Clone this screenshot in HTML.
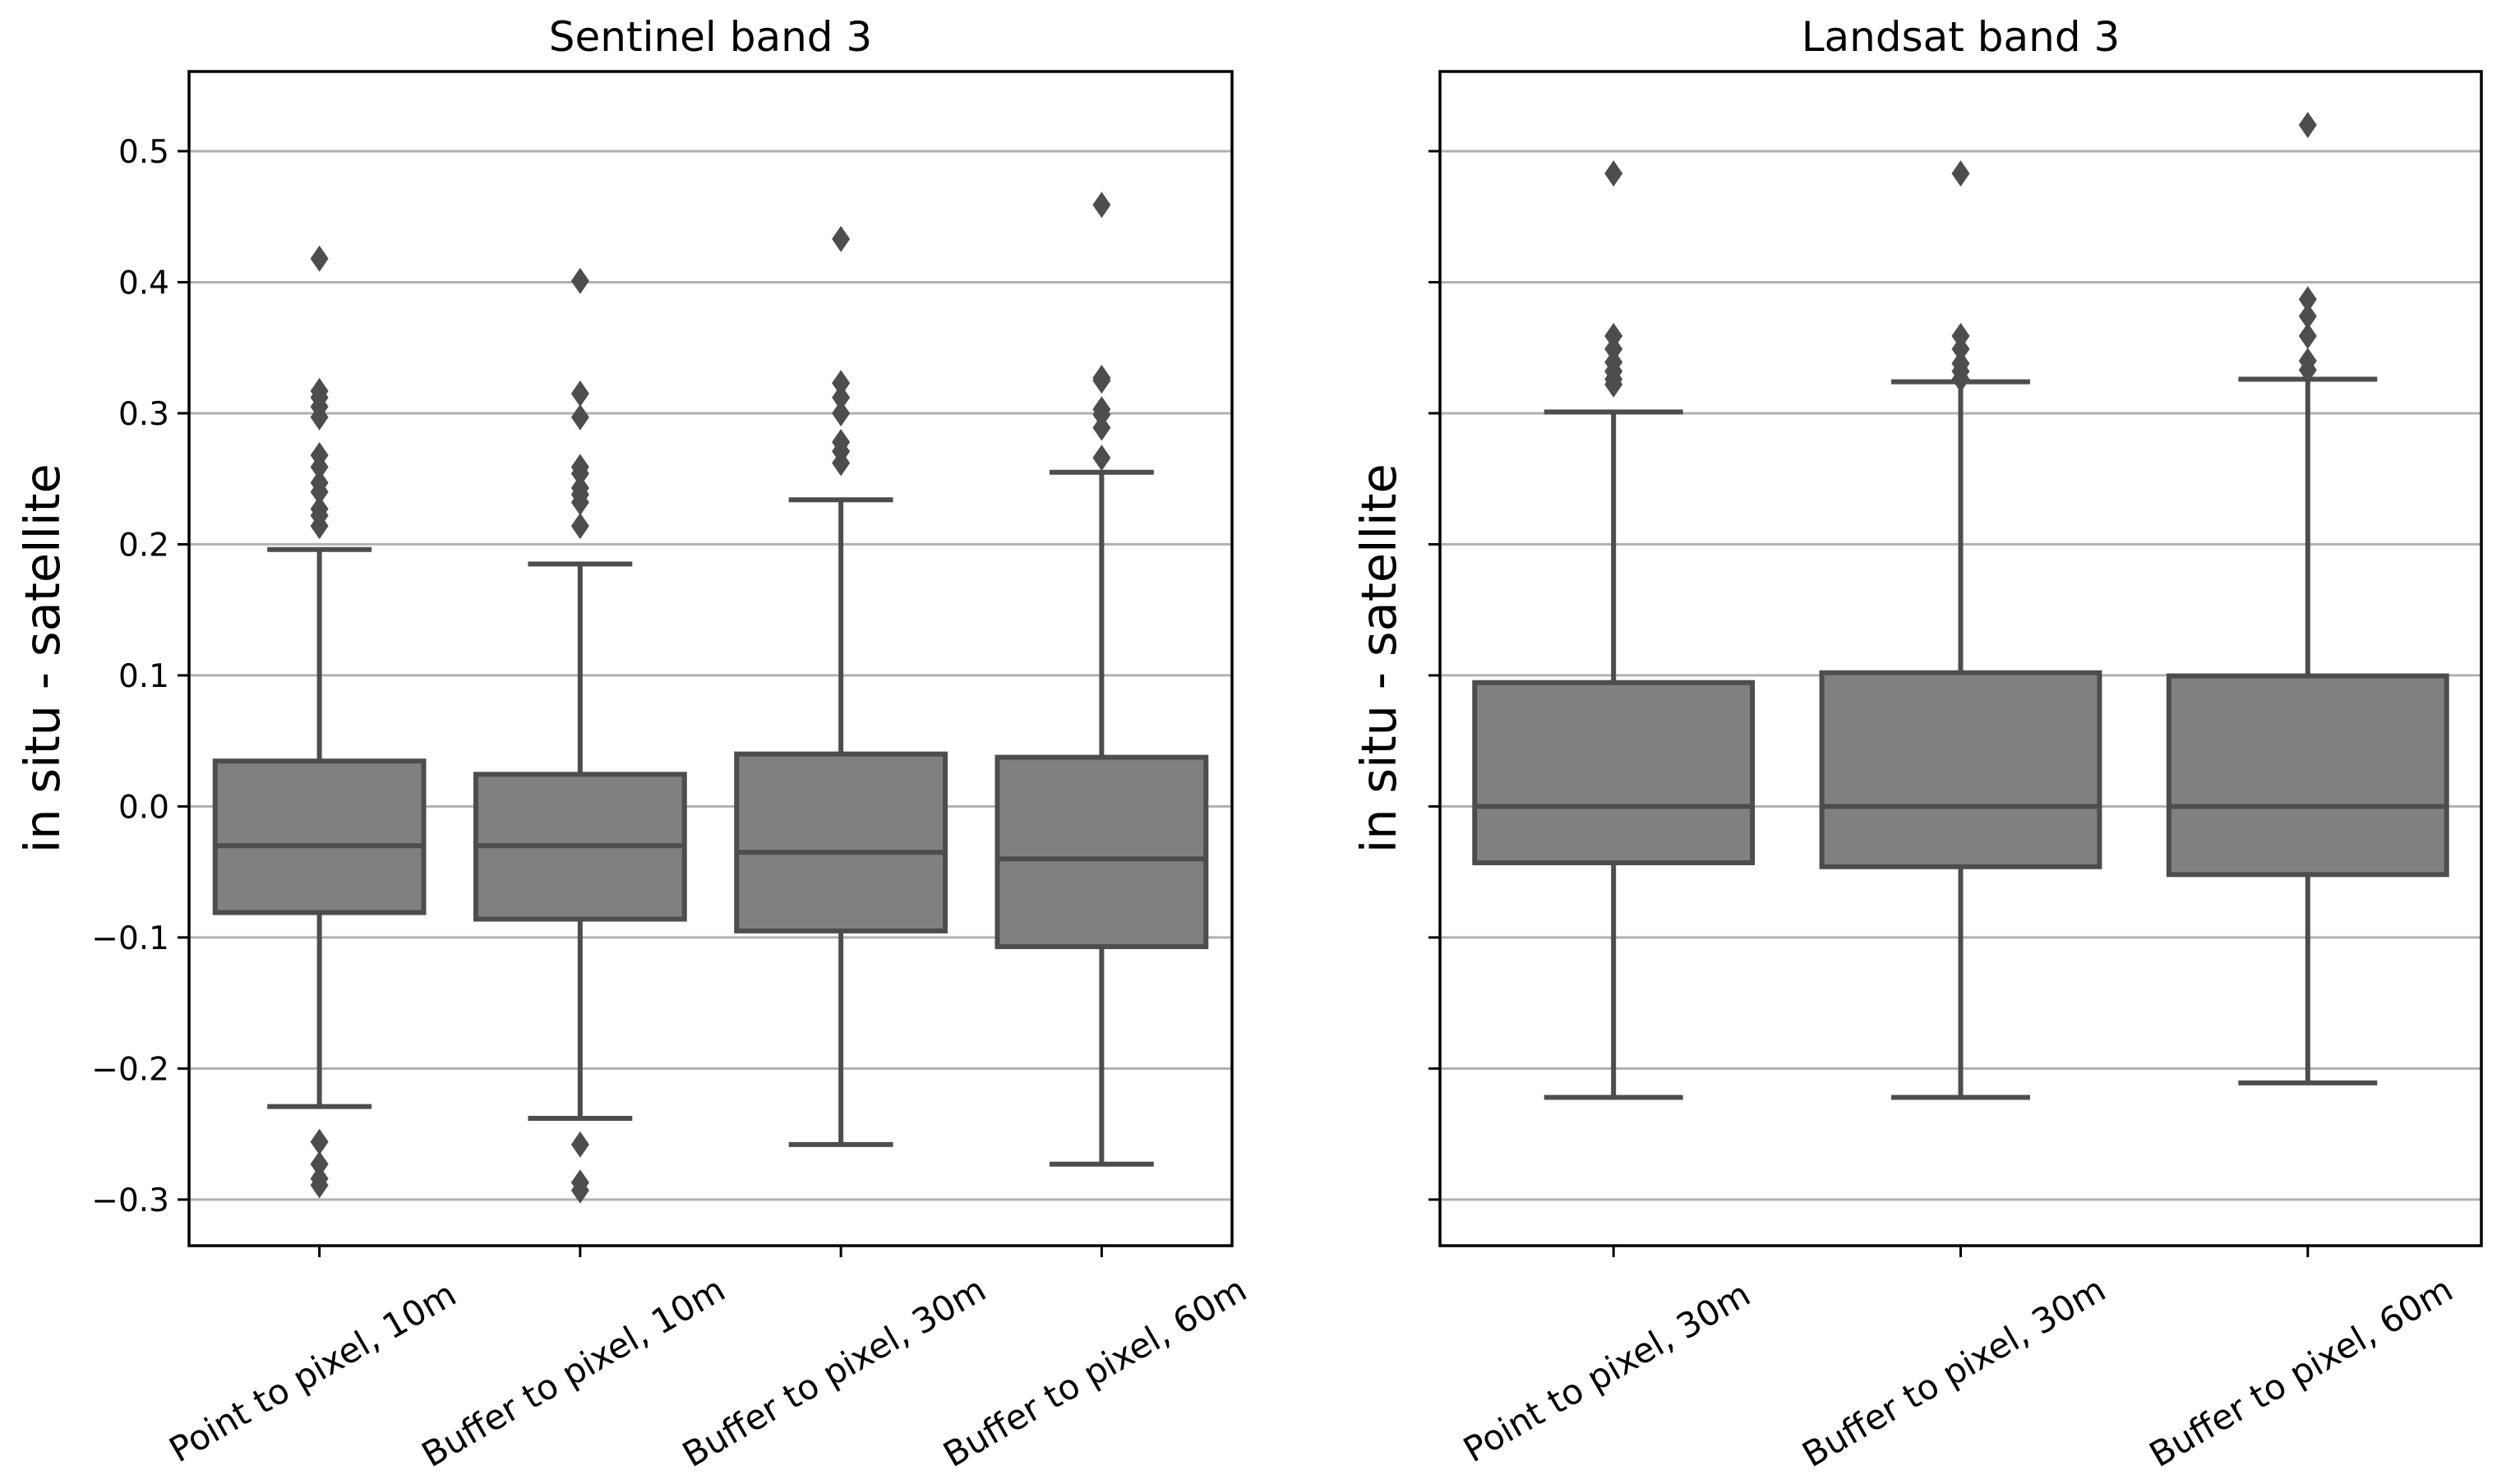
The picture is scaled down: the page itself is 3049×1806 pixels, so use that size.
<!DOCTYPE html>
<html><head><meta charset="utf-8"><style>
html,body{margin:0;padding:0;background:#fff;}
svg{display:block;font-family:"DejaVu Sans","Liberation Sans",sans-serif;}
</style></head><body>
<svg id="chart" width="3049" height="1806" viewBox="0 0 3049 1806" xmlns="http://www.w3.org/2000/svg"></svg>
<script>
// ---- data ----
const sentinelCategories = ["Point to pixel, 10m","Buffer to pixel, 10m","Buffer to pixel, 30m","Buffer to pixel, 60m"];
const sentinelQ1 = [-0.081,-0.086,-0.095,-0.107];
const sentinelMedian = [-0.030,-0.030,-0.035,-0.040];
const sentinelQ3 = [0.0346,0.0245,0.040,0.0375];
const sentinelWhiskerLow = [-0.229,-0.238,-0.258,-0.273];
const sentinelWhiskerHigh = [0.196,0.185,0.234,0.255];
const sentinelOutliers = [
  [0.418,0.317,0.312,0.305,0.297,0.268,0.259,0.247,0.240,0.227,0.222,0.214,-0.256,-0.273,-0.284,-0.289],
  [0.401,0.315,0.297,0.259,0.254,0.243,0.238,0.232,0.214,-0.258,-0.287,-0.293],
  [0.433,0.323,0.312,0.300,0.278,0.271,0.262],
  [0.459,0.327,0.325,0.303,0.299,0.289,0.266]
];
const landsatCategories = ["Point to pixel, 30m","Buffer to pixel, 30m","Buffer to pixel, 60m"];
const landsatQ1 = [-0.043,-0.046,-0.052];
const landsatMedian = [0.0,0.0,0.0];
const landsatQ3 = [0.0945,0.102,0.0996];
const landsatWhiskerLow = [-0.222,-0.222,-0.211];
const landsatWhiskerHigh = [0.301,0.324,0.326];
const landsatOutliers = [
  [0.483,0.359,0.349,0.339,0.332,0.326,0.322],
  [0.483,0.359,0.349,0.338,0.332,0.326],
  [0.520,0.387,0.374,0.359,0.340,0.333]
];
const yTicks = [-0.3,-0.2,-0.1,0.0,0.1,0.2,0.3,0.4,0.5];
const yTickLabels = ["\u22120.3","\u22120.2","\u22120.1","0.0","0.1","0.2","0.3","0.4","0.5"];
const yMin = -0.3352, yMax = 0.5608;

// ---- drawing ----
const NS = "http://www.w3.org/2000/svg";
const svg = document.getElementById("chart");
function mk(tag, attrs, parent){
  const e = document.createElementNS(NS, tag);
  for (const k in attrs) e.setAttribute(k, attrs[k]);
  (parent||svg).appendChild(e);
  return e;
}
const TOP = 87, BOTTOM = 1516;
function yScale(v){ return BOTTOM - (v - yMin) / (yMax - yMin) * (BOTTOM - TOP); }
const BOXC = "#4d4d4d";
const LW = 6;

function panel(name, left, right, title, cats, q1, med, q3, wl, wh, outs, showLabels, ylabOffset){
  const g = mk("g", {});
  
  
  const band = (right - left) / cats.length;
  const xc = i => left + band * (i + 0.5);
  yTicks.forEach((t, i) => {
    const y = yScale(t);
    const gl = mk("line", {x1:left, x2:right, y1:y, y2:y, stroke:"#b0b0b0", "stroke-width":3}, g);
    
    
    const tk = mk("line", {x1:left-14, x2:left, y1:y, y2:y, stroke:"#000", "stroke-width":3}, g);
    
    
    if (showLabels) {
      const tl = mk("text", {x:left-24, y:y+14, "text-anchor":"end", "font-size":39, fill:"#000"}, g);
      tl.textContent = yTickLabels[i];
      
      
    }
  });
  cats.forEach((c, i) => {
    const x = xc(i), bw = band * 0.8, cw = band * 0.4;
    const bg = mk("g", {}, g);
    
    
    mk("line", {x1:x, x2:x, y1:yScale(q3[i]), y2:yScale(wh[i]), stroke:BOXC, "stroke-width":LW}, bg);
    mk("line", {x1:x, x2:x, y1:yScale(q1[i]), y2:yScale(wl[i]), stroke:BOXC, "stroke-width":LW}, bg);
    mk("line", {x1:x-cw/2, x2:x+cw/2, y1:yScale(wh[i]), y2:yScale(wh[i]), stroke:BOXC, "stroke-width":LW}, bg);
    mk("line", {x1:x-cw/2, x2:x+cw/2, y1:yScale(wl[i]), y2:yScale(wl[i]), stroke:BOXC, "stroke-width":LW}, bg);
    mk("rect", {x:x-bw/2, y:yScale(q3[i]), width:bw, height:yScale(q1[i])-yScale(q3[i]), fill:"#808080", stroke:BOXC, "stroke-width":LW}, bg);
    mk("line", {x1:x-bw/2, x2:x+bw/2, y1:yScale(med[i]), y2:yScale(med[i]), stroke:BOXC, "stroke-width":LW}, bg);
    outs[i].forEach(v => {
      const y = yScale(v);
      const d = mk("polygon", {points:`${x},${y-16} ${x+11},${y} ${x},${y+16} ${x-11},${y}`, fill:BOXC}, bg);
      
      
    });
    const tk = mk("line", {x1:x, x2:x, y1:BOTTOM, y2:BOTTOM+14, stroke:"#000", "stroke-width":3}, g);
    
    
    const lx = x - 8, ly = BOTTOM + 168;
    const tl = mk("text", {x:lx, y:ly, "text-anchor":"middle", "font-size":42, fill:"#000", transform:`rotate(-30 ${lx} ${ly-14})`}, g);
    tl.textContent = c;
    
    
  });
  const fr = mk("rect", {x:left, y:TOP, width:right-left, height:BOTTOM-TOP, fill:"none", stroke:"#000", "stroke-width":3.5}, g);
  
  
  const tt = mk("text", {x:(left+right)/2, y:62, "text-anchor":"middle", "font-size":50, fill:"#000"}, g);
  tt.textContent = title;
  
  
  const yl = mk("text", {x:0, y:0, "text-anchor":"middle", "font-size":59, fill:"#000", transform:`translate(${left-ylabOffset} ${yScale(0.113)}) rotate(-90)`}, g);
  yl.textContent = "in situ - satellite";
  
  
}
panel("sentinel", 230, 1499, "Sentinel band 3", sentinelCategories, sentinelQ1, sentinelMedian, sentinelQ3, sentinelWhiskerLow, sentinelWhiskerHigh, sentinelOutliers, true, 158);
panel("landsat", 1752, 3019, "Landsat band 3", landsatCategories, landsatQ1, landsatMedian, landsatQ3, landsatWhiskerLow, landsatWhiskerHigh, landsatOutliers, false, 54);
</script>
</body></html>
